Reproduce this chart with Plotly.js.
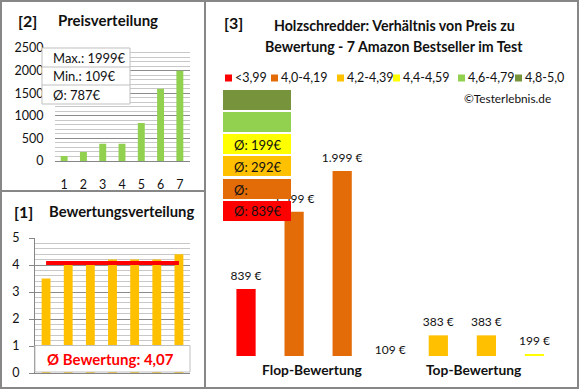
<!DOCTYPE html>
<html><head><meta charset="utf-8">
<script src="https://cdn.plot.ly/plotly-3.0.1.min.js"></script>
<style>html,body{margin:0;padding:0;background:#fff}#chart{width:580px;height:390px}</style>
</head><body><div id="chart"></div>
<script>
// ---- data ----
const priceCats = [1, 2, 3, 4, 5, 6, 7];
const prices = [109, 199, 383, 383, 839, 1599, 1999];
const ratingCats = [1, 2, 3, 4, 5, 6, 7];
const ratings = [3.5, 4.0, 4.0, 4.2, 4.2, 4.2, 4.4];
const cmpCats = [0, 1, 2, 3, 4, 5, 6];
const cmpPrices = [839, 1599, 1999, 109, 383, 383, 199];
const cmpRatings = [3.5, 4.0, 4.0, 4.2, 4.2, 4.2, 4.4];
const cmpLabels = ['839 €', '1.599 €', '1.999 €', '109 €', '383 €', '383 €', '199 €'];
const groupNames = ['Flop-Bewertung', 'Top-Bewertung'];
const groupPos = [1.375, 4.75];
const classLabels = ['<3,99', '4,0-4,19', '4,2-4,39', '4,4-4,59', '4,6-4,79', '4,8-5,0'];
const classMin = [0, 4.0, 4.2, 4.4, 4.6, 4.8];
const classColors = ['#FF0000', '#E36C09', '#FFC000', '#FFFF00', '#92D050', '#77933C'];
const classAvgText = ['Ø: 839€', 'Ø:', 'Ø: 292€', 'Ø: 199€', '', ''];
const titleText = ['Holzschredder: Verhältnis von Preis zu', 'Bewertung - 7 Amazon Bestseller im Test'];

// ---- helpers ----
const W = 580, H = 390;
const px = x => x / W;
const py = y => 1 - y / H;
const FONT = 'Lato, "Open Sans", sans-serif';
const TXT = '#111111';
const classOf = r => { let k = 0; classMin.forEach((m, i) => { if (r >= m - 1e-9) k = i; }); return k; };

const maxP = Math.max(...prices), minP = Math.min(...prices);
const avgP = Math.round(prices.reduce((a, b) => a + b, 0) / prices.length);
const avgR = ratings.reduce((a, b) => a + b, 0) / ratings.length;

// right chart scale (truncated value axis, as in the original)
const Y3MIN = 180, Y3MAX = 2697, Y3TOP = 100, Y3BOT = 356;
const upp = (Y3MAX - Y3MIN) / (Y3BOT - Y3TOP);   // units per pixel
const LBL_EXT = 24, LBL_LIFT = 6;                 // label axis: extended downwards, lifted a bit

const traces = [
  { type: 'bar', x: priceCats, y: prices, xaxis: 'x', yaxis: 'y', width: 0.36,
    marker: { color: '#92D050' }, hoverinfo: 'none' },
  { type: 'bar', x: ratingCats, y: ratings, xaxis: 'x2', yaxis: 'y2', width: 0.4,
    marker: { color: '#FFC000' }, hoverinfo: 'none' },
  { type: 'scatter', mode: 'lines', x: ratingCats, y: ratingCats.map(() => avgR), xaxis: 'x2', yaxis: 'y2',
    line: { color: '#FF0000', width: 4 }, hoverinfo: 'none' },
  { type: 'bar', x: cmpCats, y: cmpPrices, xaxis: 'x3', yaxis: 'y3', width: 0.4,
    marker: { color: cmpRatings.map(r => classColors[classOf(r)]) }, hoverinfo: 'none' },
  { type: 'scatter', mode: 'text', x: cmpCats, y: cmpPrices, text: cmpLabels, textposition: 'top center',
    cliponaxis: false, xaxis: 'x3', yaxis: 'y4', textfont: { family: FONT, size: 12, color: TXT }, hoverinfo: 'none' }
];

const shapes = [];
const annotations = [];
const ann = (x, y, text, opt = {}) => annotations.push(Object.assign({
  xref: 'paper', yref: 'paper', x: px(x), y: py(y), text: text, showarrow: false,
  xanchor: 'left', yanchor: 'middle', font: { family: FONT, size: 12, color: TXT }
}, opt));
const rect = (x0, y0, x1, y1, opt = {}) => shapes.push(Object.assign({
  type: 'rect', xref: 'paper', yref: 'paper', x0: px(x0), x1: px(x1), y0: py(y1), y1: py(y0),
  layer: 'above', line: { width: 0 }
}, opt));

// panel borders
rect(1, 1, 205, 191, { line: { color: '#878787', width: 2 }, fillcolor: 'rgba(0,0,0,0)' });
rect(1, 191, 205, 388, { line: { color: '#878787', width: 2 }, fillcolor: 'rgba(0,0,0,0)' });
rect(205, 1, 578, 388, { line: { color: '#878787', width: 2 }, fillcolor: 'rgba(0,0,0,0)' });

// panel 2 titles + info box
ann(16, 20, '<b>[2]</b>', { font: { family: FONT, size: 16, color: TXT } });
ann(108, 20, '<b>Preisverteilung</b>', { xanchor: 'center', font: { family: FONT, size: 15, color: TXT } });
rect(42, 48, 130, 104, { fillcolor: '#FFFFFF', line: { color: '#BFBFBF', width: 1 } });
shapes.push({ type: 'line', xref: 'paper', yref: 'paper', x0: px(42), x1: px(130), y0: py(67), y1: py(67), layer: 'above', line: { color: '#BFBFBF', width: 1 } });
shapes.push({ type: 'line', xref: 'paper', yref: 'paper', x0: px(42), x1: px(130), y0: py(85), y1: py(85), layer: 'above', line: { color: '#BFBFBF', width: 1 } });
ann(51, 58, 'Max.: ' + maxP + '€', { font: { family: FONT, size: 13, color: TXT } });
ann(51, 76, 'Min.: ' + minP + '€', { font: { family: FONT, size: 13, color: TXT } });
ann(51, 95, 'Ø: ' + avgP + '€', { font: { family: FONT, size: 13, color: TXT } });

// panel 1 titles + avg box
ann(12, 211, '<b>[1]</b>', { font: { family: FONT, size: 16, color: TXT } });
ann(121.5, 211, '<b>Bewertungsverteilung</b>', { xanchor: 'center', font: { family: FONT, size: 14.8, color: TXT } });
rect(35, 345.5, 190, 372, { fillcolor: '#FFFFFF', line: { color: '#BFBFBF', width: 1 } });
ann(110, 359, '<b>Ø Bewertung: ' + avgR.toFixed(2).replace('.', ',') + '</b>', { xanchor: 'center', font: { family: FONT, size: 15, color: '#FF0000' } });

// panel 3 titles
ann(222, 22, '<b>[3]</b>', { font: { family: FONT, size: 16, color: TXT } });
ann(394, 26, '<b>' + titleText[0] + '</b>', { xanchor: 'center', font: { family: FONT, size: 14.2, color: TXT } });
ann(394, 46, '<b>' + titleText[1] + '</b>', { xanchor: 'center', font: { family: FONT, size: 14.2, color: TXT } });
// legend row
const legX = [225, 271, 337, 393, 458, 515];
classLabels.forEach((l, i) => {
  rect(legX[i], 74.5, legX[i] + 7, 81.5, { fillcolor: classColors[i] });
  ann(legX[i] + 7.5, 78, l, { font: { family: FONT, size: 12.5, color: TXT } });
});
ann(553, 98, '©Testerlebnis.de', { xanchor: 'right', font: { family: FONT, size: 11.8, color: TXT } });
// stacked class boxes (top: best class)
const boxTop = [90, 112, 134, 156, 179, 201];
for (let j = 0; j < 6; j++) {
  const i = 5 - j;
  rect(223, boxTop[j], 291, boxTop[j] + 20, { fillcolor: classColors[i] });
  if (classAvgText[i]) ann(232, boxTop[j] + 10.5, classAvgText[i], { font: { family: FONT, size: 13, color: TXT } });
}
groupNames.forEach((g, i) => annotations.push({
  xref: 'x3', yref: 'paper', x: groupPos[i], y: py(369), text: '<b>' + g + '</b>', showarrow: false,
  xanchor: 'center', yanchor: 'middle', font: { family: FONT, size: 13.8, color: TXT }
}));

const layout = {
  width: W, height: H, margin: { l: 0, r: 0, t: 0, b: 0 }, showlegend: false,
  paper_bgcolor: '#FFFFFF', plot_bgcolor: 'rgba(0,0,0,0)', font: { family: FONT, size: 12, color: TXT },
  xaxis: { domain: [px(54.5), px(189.5)], range: [0.5, 7.5], anchor: 'y', tickvals: priceCats, ticks: '',
    showgrid: false, zeroline: false, showline: true, linecolor: '#868686', linewidth: 1,
    ticklabelstandoff: 12, tickfont: { family: FONT, size: 12.5, color: TXT }, fixedrange: true },
  yaxis: { domain: [py(161), py(48)], range: [0, 2500], anchor: 'x', dtick: 500, ticks: '', zeroline: false,
    showgrid: true, gridcolor: '#8c8c8c', gridwidth: 1,
    minor: { dtick: 100, showgrid: true, gridcolor: '#c8c8c8', gridwidth: 1 },
    ticklabelstandoff: 10, tickfont: { family: FONT, size: 12.5, color: TXT }, fixedrange: true },
  xaxis2: { domain: [px(35), px(190)], range: [0.5, 7.5], anchor: 'y2', showticklabels: false, ticks: '',
    showgrid: false, zeroline: false, showline: true, linecolor: '#868686', linewidth: 1, fixedrange: true },
  yaxis2: { domain: [py(373), py(238)], range: [0, 5], anchor: 'x2', dtick: 1, ticks: 'outside', ticklen: 5,
    tickcolor: '#868686', showline: true, linecolor: '#868686', zeroline: false,
    showgrid: true, gridcolor: '#8c8c8c', gridwidth: 1,
    minor: { dtick: 0.2, showgrid: true, gridcolor: '#c8c8c8', gridwidth: 1 },
    ticklabelstandoff: 7, tickfont: { family: FONT, size: 12.5, color: TXT }, fixedrange: true },
  xaxis3: { domain: [px(222), px(558.5)], range: [-0.5, 6.5], anchor: 'y3', visible: false, fixedrange: true },
  yaxis3: { domain: [py(Y3BOT), py(Y3TOP)], range: [Y3MIN, Y3MAX], anchor: 'x3', visible: false, fixedrange: true },
  yaxis4: { domain: [py(Y3BOT + LBL_EXT - LBL_LIFT), py(Y3TOP - LBL_LIFT)], range: [Y3MIN - LBL_EXT * upp, Y3MAX],
    anchor: 'x3', visible: false, fixedrange: true },
  shapes: shapes, annotations: annotations
};

Plotly.newPlot('chart', traces, layout, { staticPlot: true, displayModeBar: false });
</script>
</body></html>
